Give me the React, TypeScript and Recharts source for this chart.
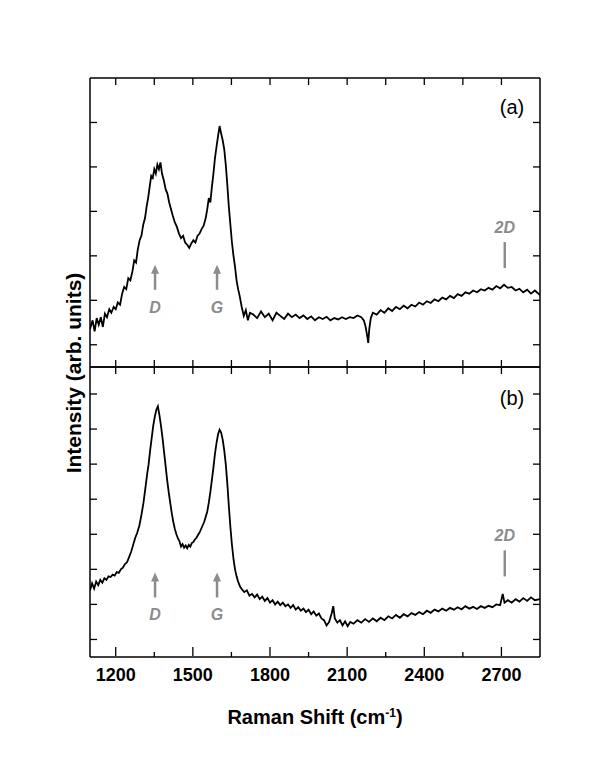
import { LineChart, Line, XAxis, YAxis, ReferenceDot } from 'recharts';

// panel (a) spectrum
const shiftA = [
  1100, 1110, 1118, 1126, 1134, 1142, 1150, 1158, 1166, 1175, 1183, 1192, 1200, 1208, 1217, 1225, 1233, 1241, 1249, 1257,
  1265, 1272, 1279, 1286, 1293, 1300, 1307, 1314, 1320, 1326, 1332, 1338, 1344, 1350, 1356, 1362, 1368, 1374, 1380, 1387,
  1394, 1401, 1408, 1415, 1422, 1430, 1438, 1446, 1454, 1462, 1470, 1478, 1486, 1494, 1502, 1510, 1518, 1526, 1534, 1542,
  1550, 1556, 1562, 1568, 1574, 1580, 1586, 1592, 1598, 1604, 1610, 1616, 1622, 1628, 1634, 1640, 1646, 1652, 1658, 1664,
  1670, 1676, 1682, 1690, 1698, 1706, 1714, 1722, 1735, 1750, 1765, 1780, 1795, 1810, 1825, 1840, 1855, 1870, 1885, 1900,
  1915, 1930, 1945, 1960, 1975, 1990, 2005, 2020, 2035, 2050, 2065, 2080, 2095, 2110, 2125, 2140, 2155, 2165, 2172, 2178,
  2182, 2186, 2192, 2200, 2215, 2230, 2245, 2260, 2275, 2290, 2305, 2320, 2335, 2350, 2365, 2380, 2395, 2410, 2425, 2440,
  2455, 2470, 2485, 2500, 2515, 2530, 2545, 2560, 2575, 2590, 2605, 2620, 2635, 2650, 2665, 2680, 2695, 2710, 2725, 2740,
  2755, 2770, 2785, 2800, 2815, 2830, 2850,
];
const intensityA = [
  0.35, 0.55, 0.3, 0.6, 0.45, 0.62, 0.4, 0.7, 0.62, 0.8, 0.72, 0.85, 0.8, 0.95, 0.9, 1.15, 1.3, 1.25, 1.5, 1.45,
  1.65, 1.9, 1.85, 2.15, 2.35, 2.45, 2.7, 2.85, 3.1, 3.3, 3.55, 3.8, 3.75, 3.95, 3.85, 4.05, 3.95, 4.1, 3.85, 3.7,
  3.5, 3.4, 3.2, 3.05, 2.9, 2.75, 2.65, 2.5, 2.4, 2.45, 2.3, 2.25, 2.18, 2.28, 2.35, 2.3, 2.45, 2.5, 2.6, 2.68,
  2.85, 3.05, 3.3, 3.2, 3.55, 3.85, 4.2, 4.45, 4.7, 4.92, 4.75, 4.6, 4.4, 4.05, 3.6, 3.1, 2.7, 2.3, 2.0, 1.75,
  1.45, 1.25, 1.1, 0.85, 0.65, 0.78, 0.55, 0.72, 0.68, 0.6, 0.75, 0.62, 0.7, 0.55, 0.72, 0.65, 0.58, 0.7, 0.62, 0.68,
  0.6, 0.66, 0.58, 0.64, 0.55, 0.62, 0.58, 0.63, 0.55, 0.6, 0.57, 0.62, 0.58, 0.62, 0.6, 0.66, 0.62, 0.55, 0.4, 0.2,
  0.04, 0.35, 0.6, 0.72, 0.68, 0.78, 0.72, 0.82, 0.76, 0.85, 0.8, 0.88, 0.82, 0.9, 0.86, 0.95, 0.9, 0.98, 0.94, 1.02,
  0.98, 1.06, 1.02, 1.1, 1.05, 1.14, 1.1, 1.18, 1.15, 1.22, 1.18, 1.25, 1.22, 1.28, 1.24, 1.32, 1.27, 1.35, 1.28, 1.3,
  1.22, 1.26, 1.18, 1.24, 1.15, 1.22, 1.12,
];

// panel (b) spectrum
const shiftB = [
  1100, 1108, 1116, 1124, 1132, 1140, 1148, 1156, 1164, 1172, 1180, 1188, 1196, 1204, 1212, 1220, 1228, 1236, 1244, 1252,
  1260, 1268, 1276, 1284, 1292, 1300, 1308, 1316, 1322, 1328, 1334, 1340, 1346, 1352, 1358, 1364, 1370, 1376, 1382, 1388,
  1394, 1400, 1406, 1412, 1418, 1424, 1430, 1436, 1442, 1448, 1454, 1460, 1466, 1472, 1478, 1484, 1490, 1496, 1502, 1508,
  1514, 1520, 1526, 1532, 1538, 1544, 1550, 1556, 1562, 1568, 1574, 1580, 1586, 1592, 1598, 1604, 1610, 1616, 1622, 1628,
  1634, 1640, 1646, 1652, 1658, 1664, 1670, 1676, 1684, 1692, 1700, 1710, 1720, 1730, 1740, 1750, 1760, 1770, 1780, 1790,
  1800, 1810, 1820, 1830, 1840, 1850, 1860, 1870, 1880, 1890, 1900, 1910, 1920, 1930, 1940, 1950, 1960, 1970, 1980, 1990,
  2000, 2010, 2020, 2030, 2040, 2046, 2052, 2062, 2072, 2082, 2092, 2102, 2112, 2125, 2140, 2155, 2170, 2185, 2200, 2215,
  2230, 2245, 2260, 2275, 2290, 2305, 2320, 2335, 2350, 2365, 2380, 2395, 2410, 2425, 2440, 2455, 2470, 2485, 2500, 2515,
  2530, 2545, 2560, 2575, 2590, 2605, 2620, 2635, 2650, 2665, 2680, 2695, 2705, 2712, 2725, 2740, 2755, 2770, 2785, 2800,
  2815, 2830, 2850,
];
const intensityB = [
  1.4, 1.6, 1.45, 1.65, 1.55, 1.7, 1.62, 1.75, 1.7, 1.8, 1.78, 1.85, 1.82, 1.92, 1.9, 2.0, 2.05, 2.15, 2.2, 2.35,
  2.5, 2.7, 2.9, 3.05, 3.25, 3.55, 3.9, 4.35, 4.7, 5.0, 5.4, 5.75, 6.1, 6.35, 6.55, 6.65, 6.4, 6.1, 5.75, 5.35,
  4.95, 4.55, 4.2, 3.9, 3.6, 3.35, 3.15, 3.0, 2.88, 2.8, 2.65, 2.72, 2.62, 2.68, 2.6, 2.7, 2.65, 2.75, 2.78, 2.85,
  2.9, 2.98, 3.05, 3.15, 3.25, 3.35, 3.5, 3.65, 3.9, 4.2, 4.55, 4.9, 5.3, 5.6, 5.85, 5.98, 5.9, 5.7, 5.4, 5.0,
  4.45, 3.8, 3.2, 2.7, 2.3, 2.0, 1.8, 1.65, 1.5, 1.42, 1.35, 1.4, 1.25, 1.3, 1.2, 1.28, 1.15, 1.22, 1.1, 1.18,
  1.05, 1.12, 1.0, 1.08, 0.98, 1.05, 0.95, 1.0, 0.9, 0.98, 0.85, 0.92, 0.82, 0.88, 0.78, 0.85, 0.72, 0.8, 0.68, 0.74,
  0.6, 0.55, 0.4, 0.5, 0.75, 0.95, 0.6, 0.48, 0.55, 0.4, 0.52, 0.38, 0.5, 0.45, 0.55, 0.48, 0.58, 0.5, 0.6, 0.52,
  0.62, 0.55, 0.66, 0.6, 0.7, 0.62, 0.72, 0.66, 0.75, 0.7, 0.78, 0.72, 0.82, 0.76, 0.85, 0.8, 0.88, 0.82, 0.9, 0.85,
  0.92, 0.86, 0.95, 0.88, 0.93, 0.87, 0.95, 0.9, 0.96, 0.92, 1.0, 0.98, 1.3, 1.05, 1.12, 1.05, 1.15, 1.08, 1.18, 1.1,
  1.2, 1.12, 1.15,
];

const xTicks = [1200, 1350, 1500, 1650, 1800, 1950, 2100, 2250, 2400, 2550, 2700];
const xMinorTicks = [1350, 1650, 1950, 2250, 2550];
const xMajorTicks = [1200, 1500, 1800, 2100, 2400, 2700];
const yTicksA = [0, 1, 2, 3, 4, 5];
const yTicksB = [0, 1, 2, 3, 4, 5, 6, 7];

const peakNames = ['D', 'G'];
const peakShifts = [1353, 1594];
const twoDShift = 2713;
const arrowTipA = 1.8;
const arrowTipB = 1.91;
const twoDTopA = 2.31;
const twoDTopB = 2.54;

const FONT = 'Liberation Sans, Arial, Helvetica, sans-serif';
const GRAY = '#8c8c8c';

const toRows = (xs: number[], ys: number[]) => xs.map((x, i) => ({ x, y: ys[i] }));

const PeakArrow = (props: any) => {
  const { cx, cy, name } = props;
  return (
    <g>
      <line x1={cx} y1={cy + 7} x2={cx} y2={cy + 25} stroke={GRAY} strokeWidth={2.5} />
      <path d={`M${cx - 4},${cy + 9} L${cx},${cy} L${cx + 4},${cy + 9} Z`} fill={GRAY} />
      <text x={cx} y={cy + 48} textAnchor="middle" fontFamily={FONT} fontSize={16} fontWeight="bold" fontStyle="italic" fill={GRAY}>
        {name}
      </text>
    </g>
  );
};

const TwoDMark = (props: any) => {
  const { cx, cy } = props;
  return (
    <g>
      <line x1={cx} y1={cy} x2={cx} y2={cy + 26} stroke={GRAY} strokeWidth={2.5} />
      <text x={cx} y={cy - 9} textAnchor="middle" fontFamily={FONT} fontSize={16} fontWeight="bold" fontStyle="italic" fill={GRAY}>
        2D
      </text>
    </g>
  );
};

const noLabel = () => <g />;
const axisLine = { stroke: '#000', strokeWidth: 1.5 };
const tickLine = { stroke: '#000', strokeWidth: 1.3 };

type PanelProps = {
  rows: { x: number; y: number }[];
  yDomain: number[];
  yTicks: number[];
  arrowTip: number;
  twoDTop: number;
  height: number;
  margin: { top: number; right: number; bottom: number; left: number };
  showLabels: boolean;
};

// inward ticks come from mirrored axes
const Panel = ({ rows, yDomain, yTicks, arrowTip, twoDTop, height, margin, showLabels }: PanelProps) => (
  <LineChart width={600} height={height} data={rows} margin={margin}>
    <XAxis xAxisId="t" orientation="top" mirror type="number" dataKey="x" domain={[1100, 2850]} allowDataOverflow
      ticks={xTicks} tickSize={7} tick={noLabel} height={1} axisLine={axisLine} tickLine={tickLine} />
    <XAxis xAxisId="b" orientation="bottom" mirror type="number" dataKey="x" domain={[1100, 2850]} allowDataOverflow
      ticks={showLabels ? xMinorTicks : xTicks} tickSize={showLabels ? 5 : 7} tick={noLabel} height={1}
      axisLine={axisLine} tickLine={tickLine} />
    {showLabels && (
      <XAxis xAxisId="mj" orientation="bottom" mirror type="number" dataKey="x" domain={[1100, 2850]} allowDataOverflow
        ticks={xMajorTicks} tickSize={9} tick={noLabel} height={1} axisLine={false} tickLine={tickLine} />
    )}
    {showLabels && (
      <XAxis xAxisId="m" orientation="bottom" type="number" dataKey="x" domain={[1100, 2850]} allowDataOverflow
        ticks={xMajorTicks} tickSize={0} tickMargin={11} height={1} axisLine={false} tickLine={false}
        tick={{ fontSize: 18, fontWeight: 'bold', fill: '#000', fontFamily: FONT }} />
    )}
    <YAxis yAxisId="l" orientation="left" mirror type="number" domain={yDomain} allowDataOverflow ticks={yTicks}
      tickSize={7} tick={noLabel} width={1} axisLine={axisLine} tickLine={tickLine} />
    <YAxis yAxisId="r" orientation="right" mirror type="number" domain={yDomain} allowDataOverflow ticks={yTicks}
      tickSize={7} tick={noLabel} width={1} axisLine={axisLine} tickLine={tickLine} />
    <Line xAxisId="b" yAxisId="l" type="linear" dataKey="y" stroke="#000" strokeWidth={1.8} dot={false}
      isAnimationActive={false} />
    {peakNames.map((name, i) => (
      <ReferenceDot key={name} xAxisId="b" yAxisId="l" x={peakShifts[i]} y={arrowTip} r={0}
        shape={(p: any) => <PeakArrow {...p} name={name} />} />
    ))}
    <ReferenceDot xAxisId="b" yAxisId="l" x={twoDShift} y={twoDTop} r={0} shape={(p: any) => <TwoDMark {...p} />} />
  </LineChart>
);

const labelStyle: React.CSSProperties = {
  position: 'absolute',
  fontFamily: FONT,
  lineHeight: 1,
  whiteSpace: 'nowrap',
  transform: 'translate(-50%, -50%)',
};

export default function App() {
  return (
    <div style={{ position: 'absolute', left: 0, top: 0, width: 600, height: 782, background: '#fff' }}>
      <div style={{ position: 'absolute', left: 0, top: 0 }}>
        <Panel rows={toRows(shiftA, intensityA)} yDomain={[-0.5, 6]} yTicks={yTicksA} arrowTip={arrowTipA}
          twoDTop={twoDTopA} height={380} margin={{ top: 78, right: 60, bottom: 13, left: 90 }} showLabels={false} />
      </div>
      <div style={{ position: 'absolute', left: 0, top: 360 }}>
        <Panel rows={toRows(shiftB, intensityB)} yDomain={[-0.5, 7.77]} yTicks={yTicksB} arrowTip={arrowTipB}
          twoDTop={twoDTopB} height={422} margin={{ top: 7, right: 60, bottom: 124, left: 90 }} showLabels />
      </div>
      <div style={{ ...labelStyle, left: 512, top: 107, fontSize: 20 }}>(a)</div>
      <div style={{ ...labelStyle, left: 512, top: 398, fontSize: 20 }}>(b)</div>
      <div style={{ ...labelStyle, left: 315, top: 717, fontSize: 20, fontWeight: 'bold' }}>
        Raman Shift (cm<sup style={{ fontSize: 12 }}>-1</sup>)
      </div>
      <div style={{ ...labelStyle, left: 73, top: 373, fontSize: 21, fontWeight: 'bold', transform: 'translate(-50%, -50%) rotate(-90deg)' }}>
        Intensity (arb. units)
      </div>
    </div>
  );
}
